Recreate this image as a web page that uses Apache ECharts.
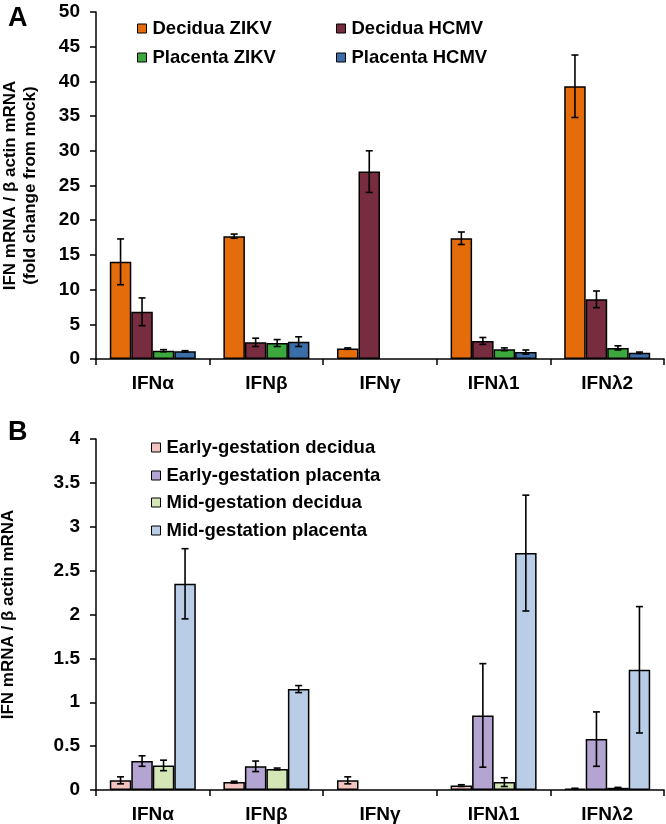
<!DOCTYPE html>
<html><head><meta charset="utf-8">
<script src="https://cdn.jsdelivr.net/npm/echarts@6/dist/echarts.min.js"></script>
<style>html,body{margin:0;padding:0;background:#fff}#c{width:666px;height:824px}</style>
</head><body><div id="c"></div>
<script>
const categories = ['IFNα','IFNβ','IFNγ','IFNλ1','IFNλ2'];
// Panel A
const namesA = ['Decidua ZIKV','Decidua HCMV','Placenta ZIKV','Placenta HCMV'];
const decZIKV = [14.0, 17.7, 1.5, 17.4, 39.3];
const decZIKVErr = [3.3, 0.3, 0.1, 0.9, 4.5];
const decHCMV = [6.8, 2.4, 27.0, 2.6, 8.6];
const decHCMVErr = [2.0, 0.6, 3.0, 0.5, 1.2];
const plaZIKV = [1.2, 2.3, null, 1.4, 1.6];
const plaZIKVErr = [0.15, 0.5, null, 0.2, 0.3];
const plaHCMV = [1.1, 2.5, null, 1.0, 0.9];
const plaHCMVErr = [0.1, 0.7, null, 0.3, 0.1];
const yTicksA = [0,5,10,15,20,25,30,35,40,45,50];
// Panel B
const namesB = ['Early-gestation decidua','Early-gestation placenta','Mid-gestation decidua','Mid-gestation placenta'];
const earlyDec = [0.11, 0.09, 0.11, 0.05, 0.015];
const earlyDecErr = [0.04, 0.01, 0.04, 0.01, 0.005];
const earlyPla = [0.33, 0.27, null, 0.85, 0.58];
const earlyPlaErr = [0.06, 0.06, null, 0.59, 0.31];
const midDec = [0.28, 0.24, null, 0.09, 0.025];
const midDecErr = [0.06, 0.01, null, 0.05, 0.005];
const midPla = [2.35, 1.15, null, 2.70, 1.37];
const midPlaErr = [0.40, 0.04, null, 0.66, 0.72];
const yTicksB = [0,0.5,1,1.5,2,2.5,3,3.5,4];

const colorsA = ['#E46C0A','#772C3F','#3DA83D','#3B6EA8'];
const colorsB = ['#F2C4C0','#B4A4D2','#D4E6B6','#B9CDE6'];
const FONT = 'Liberation Sans, Arial, sans-serif';
const BW = 21.5;

const valsA = [decZIKV, decHCMV, plaZIKV, plaHCMV];
const errsA = [decZIKVErr, decHCMVErr, plaZIKVErr, plaHCMVErr];
const valsB = [earlyDec, earlyPla, midDec, midPla];
const errsB = [earlyDecErr, earlyPlaErr, midDecErr, midPlaErr];

const series = [];
function addPanel(names, vals, errs, colors, idx) {
  names.forEach((n, i) => {
    series.push({
      name: n, type: 'bar', xAxisIndex: idx, yAxisIndex: idx,
      barWidth: BW, barGap: '0%',
      itemStyle: { color: colors[i], borderColor: '#000', borderWidth: 1.5 },
      data: vals[i], z: 2, emphasis: {disabled: true}
    });
  });
  names.forEach((n, i) => {
    const d = [];
    vals[i].forEach((v, k) => { if (v != null && errs[i][k] != null) d.push([k, v, errs[i][k]]); });
    series.push({
      type: 'custom', xAxisIndex: idx, yAxisIndex: idx, z: 5, silent: true,
      encode: { x: 0, y: 1 },
      data: d,
      renderItem: function (params, api) {
        const k = api.value(0), v = api.value(1), e = api.value(2);
        const off = (i - 1.5) * BW;
        const top = api.coord([k, v + e]);
        const bot = api.coord([k, v - e]);
        const x = top[0] + off;
        const cap = 3.5;
        const st = { stroke: '#000', lineWidth: 1.6 };
        return { type: 'group', children: [
          { type: 'line', shape: { x1: x, y1: top[1], x2: x, y2: bot[1] }, style: st },
          { type: 'line', shape: { x1: x - cap, y1: top[1], x2: x + cap, y2: top[1] }, style: st },
          { type: 'line', shape: { x1: x - cap, y1: bot[1], x2: x + cap, y2: bot[1] }, style: st }
        ]};
      }
    });
  });
}
addPanel(namesA, valsA, errsA, colorsA, 0);
addPanel(namesB, valsB, errsB, colorsB, 1);

function legendItem(name, left, top) {
  return {
    data: [name], left: left, top: top, orient: 'vertical',
    icon: 'rect', itemWidth: 9, itemHeight: 9, itemGap: 0,
    selectedMode: false,
    itemStyle: { borderColor: '#000', borderWidth: 1 },
    textStyle: { fontFamily: FONT, fontWeight: 'bold', fontSize: 18.5, color: '#000', padding: [0,0,0,1] }
  };
}
const legends = [
  legendItem(namesA[0], 132, 14), legendItem(namesA[1], 331, 14),
  legendItem(namesA[2], 132, 43), legendItem(namesA[3], 331, 43),
  legendItem(namesB[0], 146, 433), legendItem(namesB[1], 146, 461),
  legendItem(namesB[2], 146, 488), legendItem(namesB[3], 146, 516)
];

const axisLine = { show: true, lineStyle: { color: '#000', width: 1.5 } };
const labelStyle = { fontFamily: FONT, fontWeight: 'bold', fontSize: 19, color: '#000' };

function xAx(idx) {
  return {
    type: 'category', gridIndex: idx, data: categories,
    axisLine: axisLine,
    axisTick: { show: true, length: 6, lineStyle: { color: '#000', width: 1.5 }, alignWithLabel: false },
    axisLabel: Object.assign({ margin: 15 }, labelStyle),
    splitLine: { show: false }
  };
}
function yAx(idx, max, interval, name, gap) {
  return {
    type: 'value', gridIndex: idx, min: 0, max: max, interval: interval,
    axisLine: axisLine,
    axisTick: { show: true, length: 6, lineStyle: { color: '#000', width: 1.5 } },
    axisLabel: Object.assign({ margin: 16 }, labelStyle),
    splitLine: { show: false },
    name: name, nameLocation: 'middle', nameRotate: 90, nameGap: gap,
    nameTextStyle: { fontFamily: FONT, fontWeight: 'bold', fontSize: 17, color: '#000', lineHeight: 20 }
  };
}

const chart = echarts.init(document.getElementById('c'), null, { renderer: 'canvas' });
chart.setOption({
  animation: false,
  backgroundColor: '#fff',
  title: [
    { text: 'A', left: 3, top: 0, textStyle: { fontFamily: FONT, fontWeight: 'bold', fontSize: 27, color: '#000' } },
    { text: 'B', left: 3, top: 414, textStyle: { fontFamily: FONT, fontWeight: 'bold', fontSize: 27, color: '#000' } }
  ],
  legend: legends,
  grid: [
    { left: 96, top: 12, width: 568, height: 347, containLabel: false, outerBoundsMode: 'none' },
    { left: 96, top: 439, width: 568, height: 351, containLabel: false, outerBoundsMode: 'none' }
  ],
  xAxis: [xAx(0), xAx(1)],
  yAxis: [
    yAx(0, yTicksA[yTicksA.length-1], yTicksA[1]-yTicksA[0], 'IFN mRNA / β actin mRNA\n(fold change from mock)', 56),
    yAx(1, yTicksB[yTicksB.length-1], yTicksB[1]-yTicksB[0], 'IFN mRNA / β actin mRNA', 78)
  ],
  series: series
});
</script></body></html>
